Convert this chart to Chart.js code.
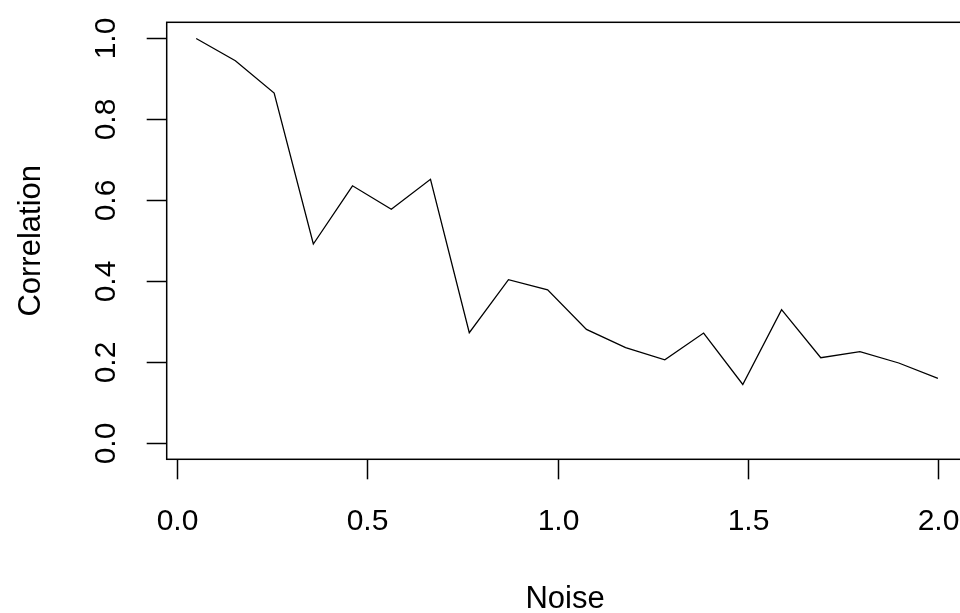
<!DOCTYPE html>
<html>
<head>
<meta charset="utf-8">
<script src="https://cdn.jsdelivr.net/npm/chart.js@4/dist/chart.umd.min.js"></script>
<style>
html,body{margin:0;padding:0;background:#fff;overflow:hidden;width:960px;height:613px;}
#wrap{position:absolute;left:0;top:0;width:1010px;height:613px;}
</style>
</head>
<body>
<div id="wrap"><canvas id="c" width="1010" height="613"></canvas></div>
<script>
const noise = [0.05,0.153,0.255,0.358,0.461,0.563,0.666,0.768,0.871,0.974,1.076,1.179,1.282,1.384,1.487,1.589,1.692,1.795,1.897,2.0];
const correlation = [1.0,0.945,0.865,0.492,0.636,0.578,0.652,0.273,0.404,0.379,0.281,0.236,0.206,0.272,0.145,0.330,0.211,0.226,0.198,0.160];
const xTicks = [0.0,0.5,1.0,1.5,2.0];
const yTicks = [0.0,0.2,0.4,0.6,0.8,1.0];
const xTitle = 'Noise';
const yTitle = 'Correlation';

const FONT = '30px "Liberation Sans", Arial, sans-serif';
const TITLE_FONT = '31px "Liberation Sans", Arial, sans-serif';

const rAxes = {
  id: 'rAxes',
  afterDraw(chart) {
    const ctx = chart.ctx, a = chart.chartArea;
    const xs = chart.scales.x, ys = chart.scales.y;
    ctx.save();
    ctx.strokeStyle = '#000';
    ctx.lineWidth = 1.5;
    ctx.strokeRect(a.left, a.top, a.right - a.left, a.bottom - a.top);
    ctx.fillStyle = '#000';
    ctx.font = FONT;
    ctx.textAlign = 'center';
    ctx.textBaseline = 'alphabetic';
    // x axis
    xTicks.forEach(v => {
      const px = Math.round(xs.getPixelForValue(v)) + 0.5;
      ctx.beginPath(); ctx.moveTo(px, a.bottom); ctx.lineTo(px, a.bottom + 20); ctx.stroke();
      ctx.fillText(v.toFixed(1), px, a.bottom + 71);
    });
    // y axis
    yTicks.forEach(v => {
      const py = Math.round(ys.getPixelForValue(v)) + 0.5;
      ctx.beginPath(); ctx.moveTo(a.left, py); ctx.lineTo(a.left - 20, py); ctx.stroke();
      ctx.save();
      ctx.translate(a.left - 51.5, py);
      ctx.rotate(-Math.PI / 2);
      ctx.fillText(v.toFixed(1), 0, 0);
      ctx.restore();
    });
    // titles
    ctx.font = TITLE_FONT;
    ctx.fillText(xTitle, (a.left + a.right) / 2 - 2, a.bottom + 148.5);
    ctx.save();
    ctx.translate(40, (a.top + a.bottom) / 2);
    ctx.rotate(-Math.PI / 2);
    ctx.fillText(yTitle, 0, 0);
    ctx.restore();
    ctx.restore();
  }
};

new Chart(document.getElementById('c'), {
  type: 'line',
  data: {
    datasets: [{
      data: noise.map((x, i) => ({x: x, y: correlation[i]})),
      borderColor: '#000',
      borderWidth: 1.3,
      pointRadius: 0,
      tension: 0,
      fill: false
    }]
  },
  options: {
    responsive: false,
    animation: false,
    devicePixelRatio: 1,
    layout: { padding: { left: 166.7, top: 22.3, right: 42.6, bottom: 153.7 } },
    plugins: { legend: { display: false }, tooltip: { enabled: false } },
    scales: {
      x: { type: 'linear', min: -0.0275, max: 2.0775, display: false },
      y: { type: 'linear', min: -0.04, max: 1.04, display: false }
    }
  },
  plugins: [rAxes]
});
</script>
</body>
</html>
